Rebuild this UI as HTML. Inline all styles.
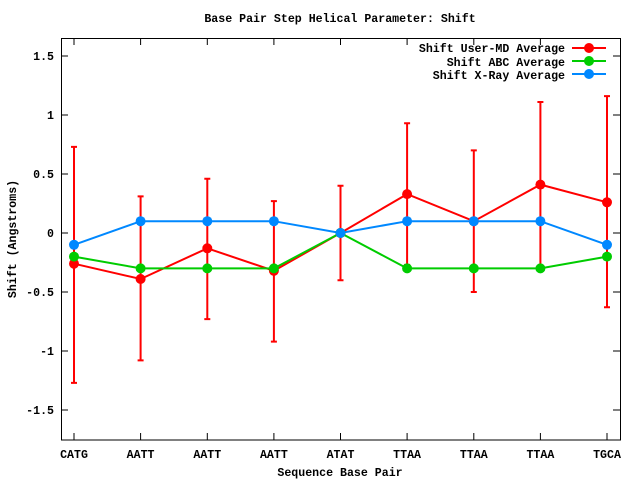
<!DOCTYPE html>
<html><head><style>body{margin:0;background:#fff}svg{display:block}text{font-family:"Liberation Mono",monospace;font-weight:bold;font-size:11.6px}</style></head><body>
<svg width="640" height="480" xmlns="http://www.w3.org/2000/svg">
<rect width="640" height="480" fill="#fff"/>
<text x="340" y="22" text-anchor="middle">Base Pair Step Helical Parameter: Shift</text>
<rect x="61.5" y="38.5" width="559" height="401.5" fill="none" stroke="#000"/>
<g stroke="#000">
<path d="M61 56h7M61 115h7M61 174h7M61 233h7M61 292h7M61 351h7M61 410h7M620 56h-7M620 115h-7M620 174h-7M620 233h-7M620 292h-7M620 351h-7M620 410h-7"/>
<path d="M74 440v-7M140.6 440v-7M207.3 440v-7M273.9 440v-7M340.5 440v-7M407.1 440v-7M473.8 440v-7M540.4 440v-7M607 440v-7M74 38v7M140.6 38v7M207.3 38v7M273.9 38v7M340.5 38v7M407.1 38v7M473.8 38v7M540.4 38v7"/>
</g>
<g text-anchor="end">
<text x="54" y="60">1.5</text><text x="54" y="119">1</text><text x="54" y="178">0.5</text><text x="54" y="237">0</text><text x="54" y="296">-0.5</text><text x="54" y="355">-1</text><text x="54" y="414">-1.5</text>
</g>
<g text-anchor="middle">
<text x="74" y="458">CATG</text><text x="140.6" y="458">AATT</text><text x="207.3" y="458">AATT</text><text x="273.9" y="458">AATT</text><text x="340.5" y="458">ATAT</text><text x="407.1" y="458">TTAA</text><text x="473.8" y="458">TTAA</text><text x="540.4" y="458">TTAA</text><text x="607" y="458">TGCA</text>
<text x="340" y="476">Sequence Base Pair</text>
</g>
<text transform="translate(16,239) rotate(-90)" text-anchor="middle">Shift (Angstroms)</text>
<g text-anchor="end">
<text x="565" y="52">Shift User-MD Average</text>
<text x="565" y="66">Shift ABC Average</text>
<text x="565" y="79">Shift X-Ray Average</text>
</g>
<g stroke-width="2">
<path d="M572 48h34" stroke="#f00"/><circle cx="589" cy="48" r="5" fill="#f00"/>
<path d="M572 61h34" stroke="#0c0"/><circle cx="589" cy="61" r="5" fill="#0c0"/>
<path d="M572 74h34" stroke="#08f"/><circle cx="589" cy="74" r="5" fill="#08f"/>
</g>
<g stroke="#f00" stroke-width="2" fill="none">
<path d="M74 146.9V382.9M71 146.9h6M71 382.9h6
M140.6 196.4V360.4M137.6 196.4h6M137.6 360.4h6
M207.3 178.7V319.1M204.3 178.7h6M204.3 319.1h6
M273.9 201.1V341.6M270.9 201.1h6M270.9 341.6h6
M340.5 185.8V280.2M337.5 185.8h6M337.5 280.2h6
M407.1 123.3V264.9M404.1 123.3h6M404.1 264.9h6
M473.8 150.4V292M470.8 150.4h6M470.8 292h6
M540.4 102V267.2M537.4 102h6M537.4 267.2h6
M607 96.1V307.3M604 96.1h6M604 307.3h6"/>
</g>
<polyline fill="none" stroke="#f00" stroke-width="2" points="74,263.7 140.6,279 207.3,248.3 273.9,270.8 340.5,233 407.1,194.1 473.8,221.2 540.4,184.6 607,202.3"/>
<polyline fill="none" stroke="#0c0" stroke-width="2" points="74,256.6 140.6,268.4 207.3,268.4 273.9,268.4 340.5,233 407.1,268.4 473.8,268.4 540.4,268.4 607,256.6"/>
<polyline fill="none" stroke="#08f" stroke-width="2" points="74,244.8 140.6,221.2 207.3,221.2 273.9,221.2 340.5,233 407.1,221.2 473.8,221.2 540.4,221.2 607,244.8"/>
<g fill="#f00"><circle cx="74" cy="263.7" r="5"/><circle cx="140.6" cy="279" r="5"/><circle cx="207.3" cy="248.3" r="5"/><circle cx="273.9" cy="270.8" r="5"/><circle cx="340.5" cy="233" r="5"/><circle cx="407.1" cy="194.1" r="5"/><circle cx="473.8" cy="221.2" r="5"/><circle cx="540.4" cy="184.6" r="5"/><circle cx="607" cy="202.3" r="5"/></g>
<g fill="#0c0"><circle cx="74" cy="256.6" r="5"/><circle cx="140.6" cy="268.4" r="5"/><circle cx="207.3" cy="268.4" r="5"/><circle cx="273.9" cy="268.4" r="5"/><circle cx="340.5" cy="233" r="5"/><circle cx="407.1" cy="268.4" r="5"/><circle cx="473.8" cy="268.4" r="5"/><circle cx="540.4" cy="268.4" r="5"/><circle cx="607" cy="256.6" r="5"/></g>
<g fill="#08f"><circle cx="74" cy="244.8" r="5"/><circle cx="140.6" cy="221.2" r="5"/><circle cx="207.3" cy="221.2" r="5"/><circle cx="273.9" cy="221.2" r="5"/><circle cx="340.5" cy="233" r="5"/><circle cx="407.1" cy="221.2" r="5"/><circle cx="473.8" cy="221.2" r="5"/><circle cx="540.4" cy="221.2" r="5"/><circle cx="607" cy="244.8" r="5"/></g>
</svg>
</body></html>
